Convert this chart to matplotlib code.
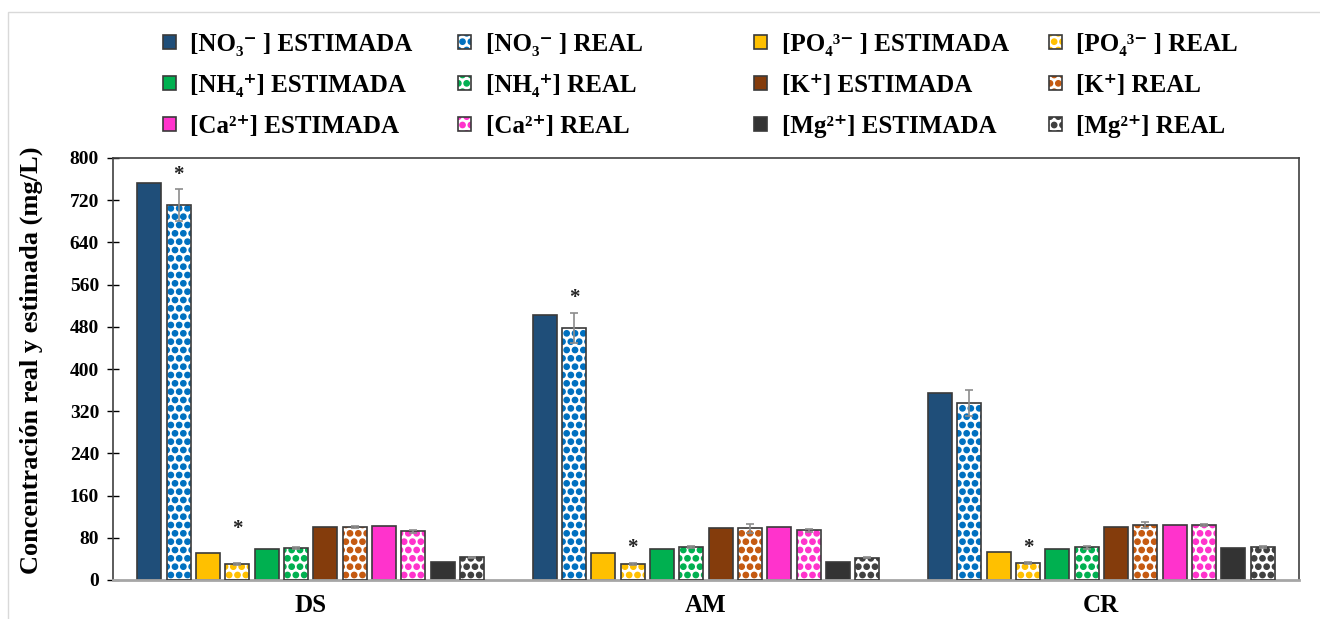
import numpy as np
import matplotlib
matplotlib.use('Agg')
import matplotlib.pyplot as plt
import matplotlib.hatch
from matplotlib.patches import Patch, Rectangle

plt.rcParams['font.family'] = ['Liberation Serif', 'DejaVu Serif']
plt.rcParams['font.weight'] = 'bold'
plt.rcParams['hatch.linewidth'] = 1.0
# bigger solid dots for the '.' hatch (looks like the Excel dotted fill)
matplotlib.hatch.SmallFilledCircles.size = 0.32

# --- data ---
groups = ['DS', 'AM', 'CR']
ions = ['[NO₃⁻ ]', '[PO₄³⁻ ]', '[NH₄⁺]', '[K⁺]', '[Ca²⁺]', '[Mg²⁺]']

estimada = {
    'NO3': [752, 503, 355],
    'PO4': [52, 52, 53],
    'NH4': [58, 58, 59],
    'K':   [100, 99, 101],
    'Ca':  [102, 101, 104],
    'Mg':  [35, 35, 60],
}
real = {
    'NO3': [711, 478, 336],
    'PO4': [31, 31, 32],
    'NH4': [61, 63, 62],
    'K':   [100, 98, 104],
    'Ca':  [92, 94, 105],
    'Mg':  [43, 42, 62],
}
real_err = {
    'NO3': [31, 29, 25],
    'PO4': [2, 2, 2],
    'NH4': [2, 2, 3],
    'K':   [2, 9, 6],
    'Ca':  [2, 3, 2],
    'Mg':  [1, 1, 2],
}
# asterisks: (group index, ion key, height)
stars = [(0, 'NO3', 768), (1, 'NO3', 535), (0, 'PO4', 97), (1, 'PO4', 61), (2, 'PO4', 61)]

keys = ['NO3', 'PO4', 'NH4', 'K', 'Ca', 'Mg']
col_est = ['#1F4E79', '#FFC000', '#00B050', '#843C0C', '#FF33CC', '#333333']
col_real = ['#0070C0', '#FFC000', '#00B050', '#C55A11', '#FF33CC', '#404040']

fig = plt.figure(figsize=(13.2, 6.19), dpi=100)
ax = fig.add_axes([113/1320, 39/619, (1299-113)/1320, (580-158)/619])

x = np.arange(len(groups))
step = 29.3/395
width = 24/395
outline = '#3A3A3A'
hatch = '..'

for i, k in enumerate(keys):
    off_e = (2*i - 5.5)*step
    off_r = (2*i + 1 - 5.5)*step
    ax.bar(x + off_e, estimada[k], width, color=col_est[i], edgecolor=outline, linewidth=1.2, zorder=2)
    ax.bar(x + off_r, real[k], width, color='white', edgecolor=col_real[i], hatch=hatch, linewidth=0, zorder=2)
    ax.bar(x + off_r, real[k], width, fill=False, edgecolor=outline, linewidth=1.2, zorder=3)
    ax.errorbar(x + off_r, real[k], yerr=real_err[k], fmt='none', ecolor='#8C8C8C',
                elinewidth=1.2, capsize=3, capthick=1.2, zorder=4)

for g, k, h in stars:
    i = keys.index(k)
    ax.text(x[g] + (2*i + 1 - 5.5)*step, h, '*', ha='center', va='center', fontsize=15, color='#222222')

ax.set_xlim(-0.5, 2.5)
ax.set_ylim(0, 800)
ax.set_yticks(np.arange(0, 801, 80))
ax.set_xticks(x)
ax.set_xticklabels(groups, fontsize=18, fontweight='bold')
ax.tick_params(axis='x', length=0, pad=10)
ax.tick_params(axis='y', direction='inout', length=8, width=1, labelsize=14, pad=6)
for sp in ['left', 'top', 'right']:
    ax.spines[sp].set_color('#404040')
    ax.spines[sp].set_linewidth(1.2)
ax.spines['bottom'].set_color('#A6A6A6')
ax.spines['bottom'].set_linewidth(2)
ax.set_ylabel('Concentración real y estimada (mg/L)', fontsize=19, fontweight='bold')
ax.yaxis.set_label_coords(-70/1186, 0.52)

# legend: four columns of three entries each
lx = [163, 458, 754, 1049]
for c in range(4):
    hs, ls = [], []
    for r in range(3):
        ion_i = (c // 2) + 2*r
        if c % 2 == 0:
            hs.append(Patch(facecolor=col_est[ion_i], edgecolor=outline, linewidth=1.2))
            ls.append(ions[ion_i] + ' ESTIMADA')
        else:
            hs.append((Patch(facecolor='white', edgecolor=col_real[ion_i], hatch=hatch, linewidth=0),
                       Patch(fill=False, edgecolor=outline, linewidth=1.2)))
            ls.append(ions[ion_i] + ' REAL')
    fig.legend(hs, ls, loc='upper left', bbox_to_anchor=(lx[c]/1320, 1 - 33/619), frameon=False,
               fontsize=18, handlelength=0.5, handleheight=0.5, handletextpad=0.6,
               labelspacing=0.72, borderpad=0, borderaxespad=0)

fig.patches.append(Rectangle((8/1320, -0.1), 1.2, 1.1 - 12/619, transform=fig.transFigure,
                             fill=False, edgecolor='#D9D9D9', linewidth=1, zorder=0))

fig.savefig('out.png', dpi=100)
